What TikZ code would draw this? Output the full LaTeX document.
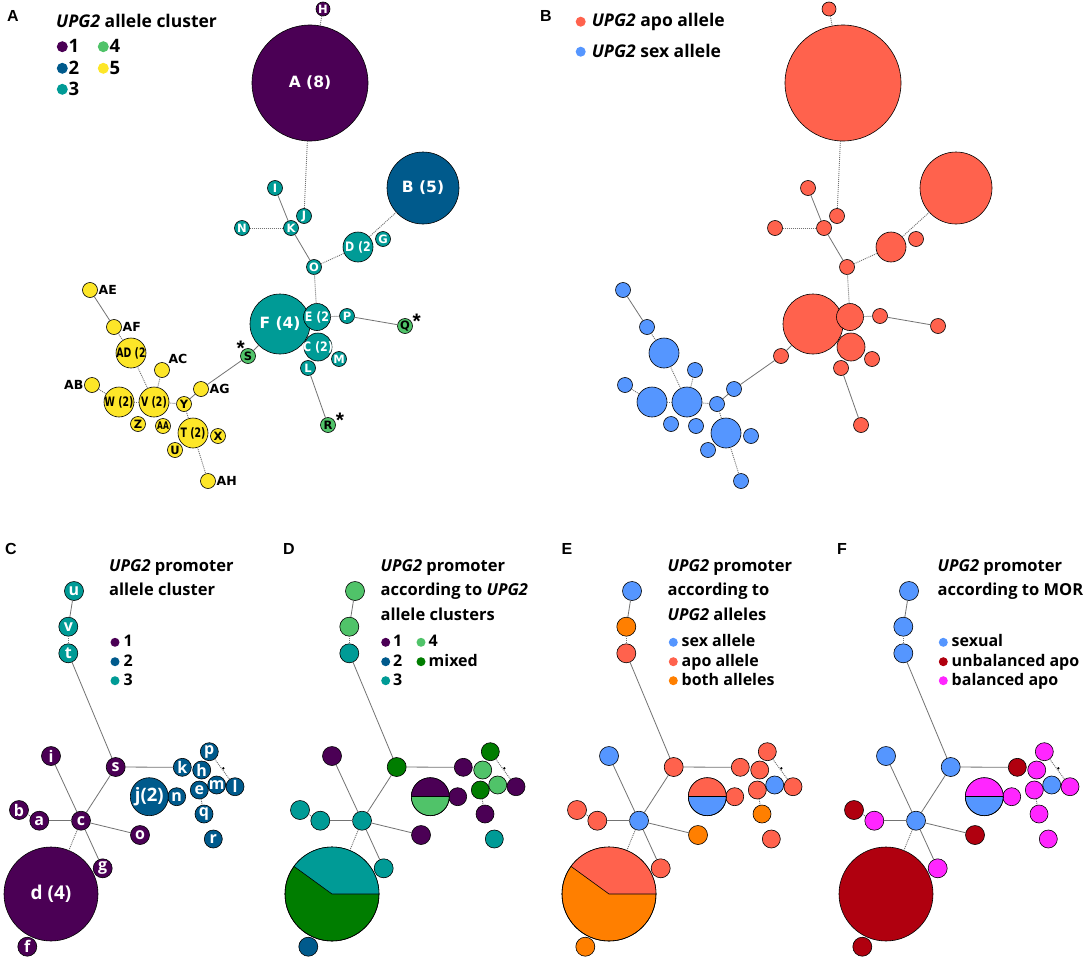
\documentclass[tikz,border=0pt]{standalone}
\usepackage{fontspec}
\setmainfont{Open Sans}
\newfontfamily\vn{DejaVu Sans}
\newfontfamily\vd[FakeStretch=0.85]{DejaVu Sans}
\newfontfamily\vc[FakeStretch=0.72]{DejaVu Sans}
\newfontfamily\ar{Liberation Sans}
\definecolor{cA}{HTML}{4B0055}
\definecolor{cB}{HTML}{005A8C}
\definecolor{cC}{HTML}{009B96}
\definecolor{cD}{HTML}{50C369}
\definecolor{cE}{HTML}{FDE628}
\definecolor{apo}{HTML}{FF624D}
\definecolor{sex}{HTML}{5596FF}
\definecolor{mix}{HTML}{007D00}
\definecolor{both}{HTML}{FF7F00}
\definecolor{unb}{HTML}{B0000F}
\definecolor{bal}{HTML}{FF26FF}
\tikzset{
 nd/.style={circle, draw=black, line width=0.6pt, inner sep=0pt, outer sep=0pt},
 kd/.style={circle, inner sep=0pt, outer sep=0pt},
 sl/.style={draw=black!55, line width=0.8pt},
 dl/.style={draw=black!55, line width=0.9pt, dash pattern=on 1pt off 1pt},
 ls/.style={text=white, inner sep=0pt, font=\vn\bfseries\fontsize{11.5}{11.5}\selectfont},
 lsk/.style={ls, text=black},
 lsa/.style={text=black, inner sep=0pt, font=\vc\bfseries\fontsize{10.5}{10.5}\selectfont},
 lm/.style={text=white, inner sep=0pt, font=\vd\bfseries\fontsize{13}{13}\selectfont},
 lmk/.style={text=black, inner sep=0pt, font=\vc\bfseries\fontsize{13}{13}\selectfont},
 lb/.style={text=white, inner sep=0pt, font=\vn\bfseries\fontsize{15.5}{15.5}\selectfont},
 lo/.style={text=black, inner sep=1pt, font=\vn\bfseries\fontsize{12.5}{12.5}\selectfont},
 plbl/.style={text=white, inner sep=0pt},
 plet/.style={inner sep=0pt, font=\ar\bfseries\fontsize{16}{16}\selectfont},
 ast/.style={inner sep=0pt, font=\ar\bfseries\fontsize{21}{21}\selectfont},
 ttl/.style={anchor=base west, inner sep=0pt, font=\bfseries\fontsize{16.5}{16.5}\selectfont},
 ttlA/.style={anchor=base west, inner sep=0pt, font=\bfseries\fontsize{17.5}{17.5}\selectfont},
 lg/.style={anchor=base west, inner sep=0pt, font=\bfseries\fontsize{16}{16}\selectfont},
 lgA/.style={anchor=base west, inner sep=0pt, font=\bfseries\fontsize{18.5}{18.5}\selectfont},
}
\newcommand\an[8]{\node[nd, minimum size=2*#4pt, fill=#5, label={[#6]#7:#8}] (a-#1) at (#2,#3) {};}
\newcommand\bn[5]{\node[nd, minimum size=2*#4pt, fill=#5] (b-#1) at (#2,#3) {};}
\newcommand\abedges[1]{%
 \draw[dl] (#1H) -- (#1A);
 \draw[dl] (#1A) -- (#1J);
 \draw[sl] (#1I) -- (#1K);
 \draw[dl] (#1N) -- (#1K);
 \draw[sl] (#1K) -- (#1O);
 \draw[dl] (#1O) -- (#1D);
 \draw[dl] (#1D) -- (#1B);
 \draw[dl] (#1O) -- (#1E);
 \draw[dl] (#1E) -- (#1P);
 \draw[sl] (#1P) -- (#1Q);
 \draw[sl] (#1F) -- (#1S);
 \draw[sl] (#1S) -- (#1AG);
 \draw[sl] (#1AG) -- (#1Y);
 \draw[dl] (#1Y) -- (#1V);
 \draw[dl] (#1Y) -- (#1T);
 \draw[dl] (#1T) -- (#1AH);
 \draw[dl] (#1V) -- (#1W);
 \draw[dl] (#1W) -- (#1AB);
 \draw[dl] (#1V) -- (#1AD);
 \draw[dl] (#1AD) -- (#1AF);
 \draw[sl] (#1AF) -- (#1AE);
 \draw[dl] (#1V) -- (#1AC);
 \draw[sl] (#1L) -- (#1R);
}
\newcommand\pn[6]{%
 \edef\curcol{\csname c@#1@#2\endcsname}%
 \node[nd, minimum size=2*#5pt, fill=\curcol, label={[plbl, font=\bfseries\fontsize{#6}{#6}\selectfont]center:\csname t@#1@#2\endcsname}] (#1-#2) at (#3,#4) {};}
\newcommand\promoter[2]{%
 \begin{scope}[xshift=#2pt]
 \pn{#1}{u}{74}{591}{9.5}{16}
 \pn{#1}{v}{68.3}{626.7}{9.5}{16}
 \pn{#1}{t}{68.3}{653.3}{9.5}{16}
 \pn{#1}{i}{51}{756}{9.5}{16}
 \pn{#1}{s}{115.7}{767}{9.5}{16}
 \pn{#1}{k}{182.3}{767.3}{9}{16}
 \pn{#1}{p}{209.3}{751.7}{9}{16}
 \pn{#1}{h}{201.7}{770}{9}{16}
 \pn{#1}{e}{199.3}{790}{9}{16}
 \pn{#1}{m}{216.7}{785}{9}{16}
 \pn{#1}{l}{235}{786.7}{9}{16}
 \pn{#1}{n}{176.7}{796.7}{9}{16}
 \pn{#1}{q}{204}{814}{9}{16}
 \pn{#1}{r}{213.3}{839}{9}{16}
 \pn{#1}{j}{149.3}{796.7}{19}{18.5}
 \pn{#1}{b}{19}{810}{9.5}{16}
 \pn{#1}{a}{39.3}{820.7}{9.5}{16}
 \pn{#1}{c}{81}{820.7}{9.5}{16}
 \pn{#1}{o}{140}{835}{9.5}{16}
 \pn{#1}{g}{102.7}{868.3}{9.5}{16}
 \pn{#1}{d}{51}{894}{47}{19}
 \pn{#1}{f}{27.3}{946.7}{9.5}{16}
 \node[kd, fill=black, minimum size=2.6pt] (#1-dot) at (223.3,768.3) {};
 \draw[sl] (#1-u) -- (#1-v);
 \draw[dl] (#1-v) -- (#1-t);
 \draw[sl] (#1-t) -- (#1-s);
 \draw[sl] (#1-s) -- (#1-k);
 \draw[sl] (#1-s) -- (#1-c);
 \draw[sl] (#1-i) -- (#1-c);
 \draw[sl] (#1-a) -- (#1-c);
 \draw[dl] (#1-b) -- (#1-a);
 \draw[sl] (#1-c) -- (#1-o);
 \draw[sl] (#1-c) -- (#1-g);
 \draw[dl] (#1-c) -- (#1-d);
 \draw[dl] (#1-e) -- (#1-q);
 \draw[dl] (#1-p) -- (#1-l);
 \end{scope}}
\newcommand\halfsplit[3]{%
 \fill[#3] (#1.east) arc[start angle=0, end angle=180, radius=#2pt] -- cycle;
 \draw[line width=0.6pt] (#1.west) -- (#1.east);
 \draw[line width=0.6pt] (#1.center) circle[radius=#2pt];}
\newcommand\piesplit[4]{%
 \fill[#3] (#1.center) -- (#1.east) arc[start angle=0, end angle=#4, radius=#2pt] -- cycle;
 \draw[line width=0.6pt] (#1.east) -- (#1.center) -- (#1.#4);
 \draw[line width=0.6pt] (#1.center) circle[radius=#2pt];}
\newcommand\setcols[2]{\foreach \nm/\cl in {#2} {\expandafter\xdef\csname c@#1@\nm\endcsname{\cl}}}
\begin{document}
\begin{tikzpicture}[x=1pt,y=-1pt]
\fill[white] (0,0) rectangle (1084,958);
\useasboundingbox (0,0) rectangle (1084,958);
% ---------------- Panel A
\an{H}{323}{9}{7}{cA}{ls}{center}{H}
\an{A}{310}{83}{58}{cA}{lb}{center}{A (8)}
\an{B}{423}{188}{36}{cB}{lb}{center}{B (5)}
\an{I}{275}{188}{7.5}{cC}{ls}{center}{I}
\an{J}{304}{216}{7.5}{cC}{ls}{center}{J}
\an{K}{291}{228}{7.5}{cC}{ls}{center}{K}
\an{N}{242}{228}{7.5}{cC}{ls}{center}{N}
\an{G}{383}{239}{7.5}{cC}{ls}{center}{G}
\an{D}{358}{247}{15}{cC}{lm}{center}{D (2}
\an{O}{314}{267}{7.5}{cC}{ls}{center}{O}
\an{F}{280}{324}{30}{cC}{lb}{center}{F (4)}
\an{E}{317}{317}{13.5}{cC}{lm}{center}{E (2}
\an{P}{347}{316}{7.5}{cC}{ls}{center}{P}
\an{Q}{405}{326}{7.5}{cD}{lsk}{center}{Q}
\an{C}{318}{347}{14}{cC}{lm}{center}{C (2)}
\an{M}{339}{359}{7.5}{cC}{ls}{center}{M}
\an{L}{308}{368}{7.5}{cC}{ls}{center}{L}
\an{R}{328}{425}{7.5}{cD}{lsk}{center}{R}
\an{S}{248}{356}{7.5}{cD}{lsk}{center}{S}
\an{AE}{90}{290}{7.5}{cE}{lo}{right}{AE}
\an{AF}{114}{327}{7.5}{cE}{lo}{right}{AF}
\an{AD}{131}{353}{15}{cE}{lmk}{center}{AD (2}
\an{AC}{162}{370}{7.5}{cE}{lo}{45}{AC}
\an{AB}{92}{385}{7.5}{cE}{lo}{left}{AB}
\an{W}{119}{402}{15}{cE}{lmk}{center}{W (2)}
\an{V}{154}{402}{15}{cE}{lmk}{center}{V (2)}
\an{Y}{184}{404}{7.5}{cE}{lsk}{center}{Y}
\an{AG}{201}{389}{7.5}{cE}{lo}{right}{AG}
\an{Z}{138}{424}{7.5}{cE}{lsk}{center}{Z}
\an{AA}{163}{426}{7.5}{cE}{lsa}{center}{AA}
\an{T}{193}{433}{15}{cE}{lmk}{center}{T (2)}
\an{X}{218}{436}{7.5}{cE}{lsk}{center}{X}
\an{U}{175}{450}{7.5}{cE}{lsk}{center}{U}
\an{AH}{208}{481}{7.5}{cE}{lo}{right}{AH}
\abedges{a-}
\node[ast] (asS) at (240.7,348) {*};
\node[ast] (asQ) at (416.7,321) {*};
\node[ast] (asR) at (340,420) {*};
\node[plet] (pA) at (13,16) {A};
\node[ttlA] (tA) at (56,27.7) {\textit{UPG2} allele cluster};
\node[kd, minimum size=11pt, fill=cA] (kA1) at (62.3,46.7) {};
\node[kd, minimum size=11pt, fill=cB] (kA2) at (62.3,68.3) {};
\node[kd, minimum size=11pt, fill=cC] (kA3) at (62.3,89.3) {};
\node[kd, minimum size=11pt, fill=cD] (kA4) at (103.3,46.7) {};
\node[kd, minimum size=11pt, fill=cE] (kA5) at (103.3,68.3) {};
\node[lgA] (xA1) at (68.5,52.8) {1};
\node[lgA] (xA2) at (68.5,74.4) {2};
\node[lgA] (xA3) at (68.5,95.4) {3};
\node[lgA] (xA4) at (109.5,52.8) {4};
\node[lgA] (xA5) at (109.5,74.4) {5};
% ---------------- Panel B
\begin{scope}[xshift=533pt]
\bn{H}{296}{9}{7}{apo}
\bn{A}{310}{83}{58}{apo}
\bn{B}{423}{188}{36}{apo}
\bn{I}{275}{188}{7.5}{apo}
\bn{J}{304}{216}{7.5}{apo}
\bn{K}{291}{228}{7.5}{apo}
\bn{N}{242}{228}{7.5}{apo}
\bn{G}{383}{239}{7.5}{apo}
\bn{D}{358}{247}{15}{apo}
\bn{O}{314}{267}{7.5}{apo}
\bn{F}{280}{324}{30}{apo}
\bn{E}{317}{317}{13.5}{apo}
\bn{P}{347}{316}{7.5}{apo}
\bn{Q}{405}{326}{7.5}{apo}
\bn{C}{318}{347}{14}{apo}
\bn{M}{339}{359}{7.5}{apo}
\bn{L}{308}{368}{7.5}{apo}
\bn{R}{328}{425}{7.5}{apo}
\bn{S}{248}{356}{7.5}{apo}
\bn{AE}{90}{290}{7.5}{sex}
\bn{AF}{114}{327}{7.5}{sex}
\bn{AD}{131}{353}{15}{sex}
\bn{AC}{162}{370}{7.5}{sex}
\bn{AB}{92}{385}{7.5}{sex}
\bn{W}{119}{402}{15}{sex}
\bn{V}{154}{402}{15}{sex}
\bn{Y}{184}{404}{7.5}{sex}
\bn{AG}{201}{389}{7.5}{sex}
\bn{Z}{138}{424}{7.5}{sex}
\bn{AA}{163}{426}{7.5}{sex}
\bn{T}{193}{433}{15}{sex}
\bn{X}{218}{436}{7.5}{sex}
\bn{U}{175}{450}{7.5}{sex}
\bn{AH}{208}{481}{7.5}{sex}
\end{scope}
\abedges{b-}
\node[plet] (pB) at (546,16) {B};
\node[kd, minimum size=10pt, fill=apo] (kB1) at (580.7,21.7) {};
\node[kd, minimum size=10pt, fill=sex] (kB2) at (580.7,51.7) {};
\node[ttlA] (xB1) at (591.7,26.7) {\textit{UPG2} apo allele};
\node[ttlA] (xB2) at (591.7,57.3) {\textit{UPG2} sex allele};
% ---------------- Panels C-F
\foreach \nm in {u,v,t,i,s,k,p,h,m,l,e,n,q,r,b,a,c,o,g,f} {\expandafter\xdef\csname t@C@\nm\endcsname{\nm}}
\expandafter\gdef\csname t@C@j\endcsname{j(2)}
\expandafter\gdef\csname t@C@d\endcsname{d (4)}
\setcols{C}{u/cC,v/cC,t/cC,i/cA,s/cA,k/cB,p/cB,h/cB,e/cB,m/cB,l/cB,n/cB,q/cB,r/cB,j/cB,b/cA,a/cA,c/cA,o/cA,g/cA,d/cA,f/cA}
\setcols{D}{u/cD,v/cD,t/cC,i/cA,s/mix,k/cA,p/mix,h/cD,e/mix,m/cD,l/cA,n/cA,q/cA,r/cC,j/cD,b/cC,a/cC,c/cC,o/cA,g/cC,d/mix,f/cB}
\setcols{E}{u/sex,v/both,t/apo,i/sex,s/apo,k/apo,p/apo,h/apo,e/apo,m/sex,l/apo,n/apo,q/both,r/apo,j/sex,b/apo,a/apo,c/sex,o/both,g/apo,d/both,f/both}
\setcols{F}{u/sex,v/sex,t/sex,i/sex,s/sex,k/unb,p/bal,h/bal,e/bal,m/sex,l/bal,n/bal,q/bal,r/bal,j/sex,b/unb,a/bal,c/sex,o/unb,g/bal,d/unb,f/unb}
\promoter{C}{0}
\promoter{D}{281}
\promoter{E}{558}
\promoter{F}{835}
\halfsplit{D-j}{19}{cA}
\piesplit{D-d}{47}{cC}{144}
\halfsplit{E-j}{19}{apo}
\piesplit{E-d}{47}{apo}{144}
\halfsplit{F-j}{19}{bal}
% letters
\node[plet] (pC) at (11,549) {C};
\node[plet] (pD) at (289,549) {D};
\node[plet] (pE) at (567,549) {E};
\node[plet] (pF) at (842,549) {F};
% titles
\node[ttl] (tC1) at (109,571) {\textit{UPG2} promoter};
\node[ttl] (tC2) at (109,595.5) {allele cluster};
\node[ttl] (tD1) at (380.5,571) {\textit{UPG2} promoter};
\node[ttl] (tD2) at (380.5,595.5) {according to \textit{UPG2}};
\node[ttl] (tD3) at (380.5,620) {allele clusters};
\node[ttl] (tE1) at (667.5,571) {\textit{UPG2} promoter};
\node[ttl] (tE2) at (667.5,595.5) {according to};
\node[ttl] (tE3) at (667.5,620) {\textit{UPG2} alleles};
\node[ttl] (tF1) at (937.5,571) {\textit{UPG2} promoter};
\node[ttl] (tF2) at (937.5,595.5) {according to MOR};
% legends C
\node[kd, minimum size=9pt, fill=cA] (kC1) at (115,642.3) {};
\node[kd, minimum size=9pt, fill=cB] (kC2) at (115,661.7) {};
\node[kd, minimum size=9pt, fill=cC] (kC3) at (115,680.7) {};
\node[lg] (xC1) at (123.5,646.7) {1};
\node[lg] (xC2) at (123.5,666.3) {2};
\node[lg] (xC3) at (123.5,685.7) {3};
% legends D
\node[kd, minimum size=9pt, fill=cA] (kD1) at (385.7,642.3) {};
\node[kd, minimum size=9pt, fill=cB] (kD2) at (385.7,661.7) {};
\node[kd, minimum size=9pt, fill=cC] (kD3) at (385.7,680.7) {};
\node[kd, minimum size=9pt, fill=cD] (kD4) at (421,642.3) {};
\node[kd, minimum size=9pt, fill=mix] (kD5) at (421,661.7) {};
\node[lg] (xD1) at (393,646.7) {1};
\node[lg] (xD2) at (393,666.3) {2};
\node[lg] (xD3) at (393,685.7) {3};
\node[lg] (xD4) at (428.5,646.7) {4};
\node[lg] (xD5) at (428.5,666.3) {mixed};
% legends E
\node[kd, minimum size=9pt, fill=sex] (kE1) at (673.3,642.3) {};
\node[kd, minimum size=9pt, fill=apo] (kE2) at (673.3,661.7) {};
\node[kd, minimum size=9pt, fill=both] (kE3) at (673.3,680.7) {};
\node[lg] (xE1) at (681.5,646.7) {sex allele};
\node[lg] (xE2) at (681.5,666.3) {apo allele};
\node[lg] (xE3) at (681.5,685.7) {both alleles};
% legends F
\node[kd, minimum size=9pt, fill=sex] (kF1) at (943.3,642.3) {};
\node[kd, minimum size=9pt, fill=unb] (kF2) at (943.3,661.7) {};
\node[kd, minimum size=9pt, fill=bal] (kF3) at (943.3,680.7) {};
\node[lg] (xF1) at (951.5,646.7) {sexual};
\node[lg] (xF2) at (951.5,666.3) {unbalanced apo};
\node[lg] (xF3) at (951.5,685.7) {balanced apo};
\end{tikzpicture}
\end{document}
